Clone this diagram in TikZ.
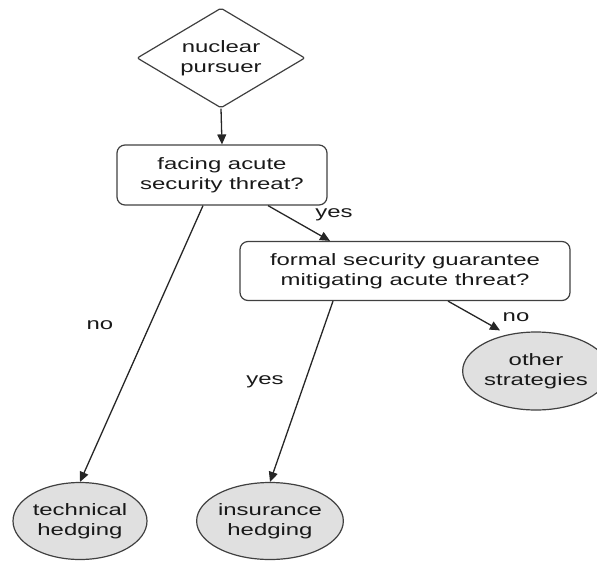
\documentclass[tikz,border=0pt]{standalone}
\usepackage{fontspec}
\setmainfont{Liberation Sans}[FakeStretch=1.45]
\usetikzlibrary{shapes.geometric,arrows.meta}
\begin{document}
\begin{tikzpicture}[x=1pt,y=-1pt,
  every node/.style={font=\fontsize{16.5}{20}\selectfont, text=black!90, align=center},
  decision/.style={draw=black!75, line width=1.2pt, shape=diamond, aspect=1.7, inner sep=0pt, minimum width=168pt, minimum height=100pt, rounded corners=2pt},
  question/.style={draw=black!75, line width=1.2pt, rounded corners=8pt, inner sep=0pt},
  outcome/.style={draw=black!75, line width=1.2pt, fill=black!12, ellipse, inner sep=0pt},
  arr/.style={-{Triangle[length=10pt,width=9pt]}, line width=1.3pt, draw=black!85},
  lbl/.style={inner sep=0pt}]
\useasboundingbox (0,0) rectangle (597,563);
\node[decision] (start) at (221,58) {nuclear\\pursuer};
\node[question, minimum width=210pt, minimum height=60pt] (q1) at (222,175) {facing acute\\security threat?};
\node[question, minimum width=330pt, minimum height=59pt] (q2) at (405,271) {formal security guarantee\\mitigating acute threat?};
\node[outcome, minimum width=134pt, minimum height=77pt] (tech) at (80,521) {technical\\hedging};
\node[outcome, minimum width=136pt, minimum height=77pt] (ins) at (270,521) {insurance\\hedging};
\node[outcome, minimum width=124pt, minimum height=78pt] (other) at (536,371) {other\\strategies};
\draw[arr] (start.south) -- (q1.north);
\draw[arr] ([xshift=-19pt]q1.south) -- (tech.north);
\draw[arr] ([xshift=46pt]q1.south) -- ([xshift=-75pt]q2.north);
\draw[arr] ([xshift=-72pt]q2.south) -- (ins.north);
\draw[arr] ([xshift=43pt]q2.south) -- ([xshift=-36pt,yshift=1pt]other.north);
\node[lbl] (l1) at (334,215) {yes};
\node[lbl] (l2) at (100,325) {no};
\node[lbl] (l3) at (265,382) {yes};
\node[lbl] (l4) at (516,317) {no};
\end{tikzpicture}
\end{document}
